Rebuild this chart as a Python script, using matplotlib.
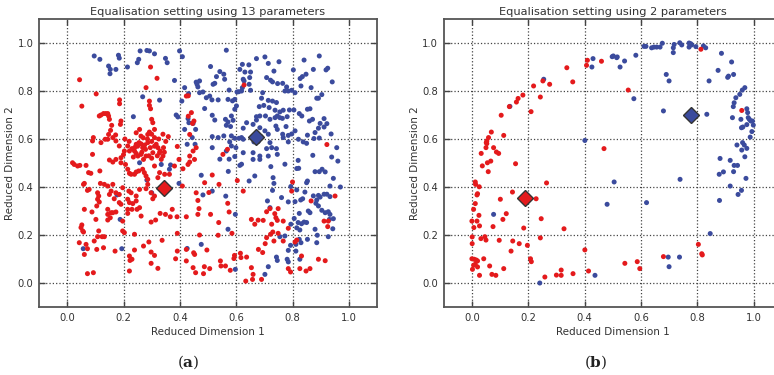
import matplotlib.pyplot as plt
import numpy as np

# ---- panel (a): 13 parameters ----
a_red = [
    # upper left
    (0.044, 0.847), (0.052, 0.737), (0.103, 0.788), (0.114, 0.696), (0.12, 0.70), (0.129, 0.706),
    (0.137, 0.706), (0.144, 0.706), (0.147, 0.696), (0.15, 0.682), (0.158, 0.657), (0.154, 0.636),
    (0.147, 0.619), (0.162, 0.606), (0.172, 0.617), (0.186, 0.763), (0.186, 0.747), (0.191, 0.675),
    (0.189, 0.661), (0.28, 0.814), (0.292, 0.758), (0.319, 0.853), (0.296, 0.90), (0.30, 0.682),
    (0.304, 0.668), (0.292, 0.74), (0.296, 0.726), (0.292, 0.629), (0.286, 0.619), (0.257, 0.64),
    (0.245, 0.626), (0.262, 0.612), (0.245, 0.578), (0.268, 0.564), (0.278, 0.557), (0.286, 0.585),
    (0.295, 0.564), (0.31, 0.606), (0.316, 0.578), (0.322, 0.564), (0.328, 0.543), (0.342, 0.564),
    (0.34, 0.529), (0.359, 0.61), (0.391, 0.569), (0.397, 0.515), (0.423, 0.779), (0.441, 0.71),
    (0.435, 0.619), (0.458, 0.564), (0.447, 0.55), (0.435, 0.529), (0.452, 0.515), (0.093, 0.606),
    (0.09, 0.592), (0.12, 0.585), (0.135, 0.599), (0.144, 0.599), (0.173, 0.592), (0.185, 0.571),
    (0.203, 0.55), (0.215, 0.571), (0.221, 0.55), (0.239, 0.55), (0.251, 0.529), (0.262, 0.536),
    (0.28, 0.529), (0.304, 0.543), (0.191, 0.522), (0.173, 0.515), (0.09, 0.536), (0.271, 0.515),
    (0.334, 0.515), (0.20, 0.535), (0.23, 0.56), (0.25, 0.57), (0.262, 0.58), (0.275, 0.575),
    (0.30, 0.59), (0.31, 0.57), (0.325, 0.60), (0.33, 0.55), (0.345, 0.545), (0.265, 0.545),
    (0.29, 0.53), (0.245, 0.54), (0.235, 0.525), (0.30, 0.52), (0.32, 0.53), (0.285, 0.60),
    (0.27, 0.605), (0.255, 0.585), (0.24, 0.565), (0.22, 0.59), (0.205, 0.60), (0.30, 0.62),
    (0.31, 0.64), (0.34, 0.62), (0.35, 0.59), (0.43, 0.78), (0.445, 0.665), (0.45, 0.675),
    (0.43, 0.695),
    # lower left
    (0.019, 0.501), (0.025, 0.494), (0.037, 0.4875), (0.045, 0.49), (0.067, 0.49), (0.076, 0.46),
    (0.084, 0.457), (0.116, 0.467), (0.15, 0.5125), (0.162, 0.504), (0.191, 0.501), (0.207, 0.494),
    (0.215, 0.474), (0.221, 0.457), (0.227, 0.453), (0.239, 0.453), (0.245, 0.4625), (0.254, 0.467),
    (0.268, 0.474), (0.274, 0.46), (0.28, 0.446), (0.286, 0.432), (0.31, 0.4875), (0.328, 0.46),
    (0.322, 0.439), (0.346, 0.453), (0.363, 0.453), (0.381, 0.4875), (0.411, 0.476), (0.429, 0.494),
    (0.435, 0.504), (0.061, 0.415), (0.058, 0.411), (0.118, 0.415), (0.132, 0.411), (0.144, 0.404),
    (0.162, 0.411), (0.156, 0.383), (0.15, 0.369), (0.173, 0.376), (0.185, 0.369), (0.197, 0.397),
    (0.219, 0.383), (0.227, 0.376), (0.245, 0.3625), (0.257, 0.39), (0.28, 0.393), (0.286, 0.411),
    (0.298, 0.376), (0.31, 0.3625), (0.304, 0.351), (0.167, 0.351), (0.215, 0.349), (0.221, 0.335),
    (0.233, 0.331), (0.245, 0.342), (0.185, 0.335), (0.191, 0.328), (0.215, 0.307), (0.23, 0.307),
    (0.248, 0.307), (0.257, 0.314), (0.108, 0.376), (0.112, 0.3625), (0.108, 0.349), (0.114, 0.3375),
    (0.105, 0.321), (0.072, 0.386), (0.078, 0.39), (0.144, 0.307), (0.156, 0.293), (0.162, 0.293),
    (0.173, 0.296), (0.144, 0.286), (0.153, 0.272), (0.144, 0.2625), (0.215, 0.29), (0.197, 0.258),
    (0.197, 0.217), (0.203, 0.21), (0.239, 0.203), (0.2625, 0.279), (0.298, 0.254), (0.314, 0.2625),
    (0.33, 0.29), (0.337, 0.178), (0.349, 0.286), (0.366, 0.276), (0.373, 0.307), (0.39, 0.276),
    (0.423, 0.276), (0.391, 0.207), (0.061, 0.307), (0.088, 0.296), (0.102, 0.265), (0.052, 0.242),
    (0.049, 0.231), (0.055, 0.217), (0.058, 0.2125), (0.112, 0.217), (0.108, 0.193), (0.124, 0.193),
    (0.132, 0.193), (0.096, 0.175), (0.067, 0.161), (0.043, 0.168), (0.072, 0.143), (0.061, 0.119),
    (0.105, 0.14), (0.129, 0.147), (0.17, 0.133), (0.221, 0.1125), (0.223, 0.094), (0.23, 0.099),
    (0.239, 0.1375), (0.271, 0.154), (0.29, 0.171), (0.298, 0.129), (0.31, 0.115), (0.298, 0.082),
    (0.322, 0.061), (0.221, 0.05), (0.072, 0.039), (0.093, 0.043), (0.409, 0.404), (0.458, 0.376),
    (0.464, 0.344), (0.468, 0.31), (0.464, 0.286), (0.47, 0.20), (0.423, 0.092), (0.447, 0.064),
    (0.456, 0.043), (0.449, 0.126), (0.4525, 0.119), (0.385, 0.101), (0.391, 0.133), (0.423, 0.14),
    # lower right
    (0.515, 0.45), (0.488, 0.418), (0.503, 0.377), (0.539, 0.411), (0.57, 0.332), (0.575, 0.296),
    (0.509, 0.286), (0.538, 0.252), (0.536, 0.199), (0.585, 0.207), (0.496, 0.1375), (0.544, 0.092),
    (0.546, 0.071), (0.562, 0.071), (0.579, 0.053), (0.487, 0.068), (0.484, 0.039), (0.506, 0.06),
    (0.594, 0.115), (0.592, 0.102), (0.615, 0.124), (0.617, 0.106), (0.637, 0.108), (0.654, 0.064),
    (0.66, 0.036), (0.658, 0.015), (0.69, 0.015), (0.634, 0.008), (0.679, 0.14), (0.694, 0.127),
    (0.654, 0.265), (0.666, 0.245), (0.678, 0.262), (0.696, 0.261), (0.708, 0.297), (0.72, 0.31),
    (0.749, 0.31), (0.737, 0.289), (0.741, 0.272), (0.746, 0.261), (0.767, 0.258), (0.726, 0.245),
    (0.73, 0.2125), (0.722, 0.203), (0.749, 0.207), (0.708, 0.189), (0.703, 0.164), (0.734, 0.175),
    (0.785, 0.228), (0.767, 0.175), (0.815, 0.179), (0.809, 0.171), (0.80, 0.421), (0.797, 0.383),
    (0.866, 0.342), (0.925, 0.235), (0.912, 0.258), (0.927, 0.258), (0.951, 0.3625), (0.625, 0.383),
    (0.604, 0.427), (0.832, 0.1125), (0.826, 0.06), (0.848, 0.05), (0.862, 0.06), (0.892, 0.099),
    (0.916, 0.093), (0.785, 0.06), (0.793, 0.046),
    # inside the blue cloud
    (0.628, 0.825), (0.569, 0.557), (0.553, 0.536), (0.922, 0.577),
]

a_blue = [
    # upper left
    (0.096, 0.946), (0.116, 0.932), (0.182, 0.949), (0.185, 0.937), (0.147, 0.904), (0.153, 0.89),
    (0.152, 0.872), (0.173, 0.89), (0.214, 0.90), (0.249, 0.918), (0.254, 0.932), (0.259, 0.967),
    (0.283, 0.969), (0.292, 0.967), (0.31, 0.955), (0.349, 0.936), (0.355, 0.918), (0.399, 0.967),
    (0.409, 0.943), (0.381, 0.844), (0.387, 0.70), (0.393, 0.692), (0.417, 0.814), (0.431, 0.789),
    (0.458, 0.837), (0.461, 0.828), (0.464, 0.817), (0.407, 0.758), (0.429, 0.685), (0.432, 0.668),
    (0.447, 0.665), (0.456, 0.64), (0.444, 0.606), (0.454, 0.578), (0.417, 0.64), (0.426, 0.578),
    (0.328, 0.762), (0.268, 0.776), (0.235, 0.693),
    # upper right
    (0.565, 0.97), (0.509, 0.902), (0.542, 0.881), (0.556, 0.87), (0.559, 0.849), (0.53, 0.86),
    (0.524, 0.832), (0.518, 0.828), (0.494, 0.772), (0.482, 0.796), (0.514, 0.763), (0.536, 0.763),
    (0.488, 0.727), (0.515, 0.699), (0.524, 0.679), (0.562, 0.682), (0.571, 0.671), (0.565, 0.657),
    (0.58, 0.652), (0.589, 0.678), (0.583, 0.696), (0.595, 0.724), (0.601, 0.738), (0.587, 0.759),
    (0.595, 0.765), (0.571, 0.765), (0.575, 0.804), (0.603, 0.796), (0.609, 0.797), (0.619, 0.80),
    (0.622, 0.814), (0.625, 0.849), (0.628, 0.842), (0.613, 0.89), (0.622, 0.911), (0.645, 0.909),
    (0.631, 0.879), (0.651, 0.879), (0.648, 0.856), (0.646, 0.828), (0.651, 0.803), (0.672, 0.935),
    (0.702, 0.942), (0.714, 0.915), (0.734, 0.883), (0.752, 0.922), (0.708, 0.856), (0.722, 0.845),
    (0.729, 0.838), (0.747, 0.831), (0.765, 0.832), (0.779, 0.817), (0.773, 0.80), (0.785, 0.80),
    (0.797, 0.803), (0.809, 0.793), (0.803, 0.888), (0.841, 0.929), (0.848, 0.87), (0.874, 0.89),
    (0.895, 0.946), (0.919, 0.888), (0.925, 0.895), (0.941, 0.838), (0.827, 0.852), (0.835, 0.86),
    (0.83, 0.821), (0.866, 0.814), (0.886, 0.77), (0.892, 0.77), (0.904, 0.785), (0.912, 0.685),
    (0.922, 0.664), (0.912, 0.65), (0.892, 0.645), (0.898, 0.665), (0.862, 0.726), (0.853, 0.724),
    (0.871, 0.682), (0.86, 0.675), (0.824, 0.706), (0.833, 0.696), (0.805, 0.721), (0.789, 0.721),
    (0.767, 0.72), (0.755, 0.713), (0.738, 0.72), (0.743, 0.752), (0.729, 0.758), (0.714, 0.761),
    (0.69, 0.77), (0.694, 0.793), (0.682, 0.735), (0.698, 0.74), (0.717, 0.731), (0.684, 0.696),
    (0.672, 0.693), (0.704, 0.696), (0.72, 0.682), (0.738, 0.689), (0.746, 0.696), (0.755, 0.689),
    (0.764, 0.686), (0.781, 0.693), (0.741, 0.654), (0.746, 0.64), (0.765, 0.62), (0.767, 0.606),
    (0.785, 0.615), (0.797, 0.621), (0.809, 0.634), (0.777, 0.652), (0.625, 0.645), (0.637, 0.668),
    (0.66, 0.661), (0.672, 0.679), (0.684, 0.647), (0.702, 0.634), (0.714, 0.62), (0.688, 0.61),
    (0.666, 0.613), (0.619, 0.606), (0.61, 0.603), (0.595, 0.603), (0.625, 0.599), (0.663, 0.588),
    (0.678, 0.589), (0.72, 0.585), (0.726, 0.564), (0.743, 0.56), (0.708, 0.56), (0.66, 0.543),
    (0.684, 0.529), (0.714, 0.529), (0.746, 0.536), (0.785, 0.588), (0.821, 0.599), (0.838, 0.588),
    (0.85, 0.582), (0.853, 0.616), (0.88, 0.627), (0.876, 0.602), (0.895, 0.604), (0.937, 0.621),
    (0.957, 0.564), (0.939, 0.525), (0.872, 0.532), (0.625, 0.543), (0.599, 0.564), (0.583, 0.571),
    (0.577, 0.588), (0.583, 0.613), (0.556, 0.613), (0.536, 0.606), (0.515, 0.61), (0.515, 0.564),
    (0.542, 0.516), (0.575, 0.516), (0.595, 0.527), (0.565, 0.55), (0.47, 0.793), (0.47, 0.842),
    (0.506, 0.779),
    # lower right
    (0.613, 0.49), (0.619, 0.495), (0.66, 0.515), (0.684, 0.515), (0.723, 0.485), (0.773, 0.495),
    (0.82, 0.511), (0.815, 0.477), (0.822, 0.478), (0.88, 0.464), (0.895, 0.464), (0.905, 0.474),
    (0.916, 0.463), (0.945, 0.436), (0.961, 0.508), (0.731, 0.439), (0.734, 0.415), (0.666, 0.446),
    (0.646, 0.425), (0.572, 0.465), (0.476, 0.449), (0.515, 0.383), (0.482, 0.367), (0.563, 0.362),
    (0.597, 0.286), (0.571, 0.224), (0.476, 0.161), (0.597, 0.057), (0.702, 0.036), (0.743, 0.108),
    (0.746, 0.094), (0.714, 0.068), (0.781, 0.099), (0.785, 0.088), (0.711, 0.342), (0.72, 0.314),
    (0.729, 0.386), (0.761, 0.356), (0.785, 0.338), (0.809, 0.339), (0.829, 0.346), (0.836, 0.351),
    (0.844, 0.379), (0.85, 0.418), (0.853, 0.425), (0.794, 0.402), (0.815, 0.388), (0.874, 0.363),
    (0.892, 0.365), (0.898, 0.358), (0.912, 0.37), (0.922, 0.37), (0.933, 0.36), (0.886, 0.346),
    (0.883, 0.332), (0.892, 0.321), (0.904, 0.303), (0.916, 0.293), (0.927, 0.297), (0.933, 0.286),
    (0.945, 0.268), (0.931, 0.265), (0.856, 0.30), (0.862, 0.293), (0.824, 0.29), (0.806, 0.269),
    (0.82, 0.252), (0.832, 0.247), (0.841, 0.254), (0.85, 0.252), (0.794, 0.245), (0.815, 0.23),
    (0.826, 0.221), (0.824, 0.182), (0.88, 0.224), (0.888, 0.199), (0.927, 0.193), (0.943, 0.226),
    (0.853, 0.182), (0.83, 0.168), (0.812, 0.161), (0.812, 0.133), (0.785, 0.136), (0.793, 0.157),
    (0.773, 0.196), (0.755, 0.193), (0.826, 0.099), (0.886, 0.168), (0.97, 0.40), (0.933, 0.404),
    # lower left
    (0.257, 0.501), (0.334, 0.494), (0.367, 0.492), (0.363, 0.474), (0.283, 0.429), (0.30, 0.376),
    (0.397, 0.415), (0.177, 0.367), (0.188, 0.265), (0.057, 0.143), (0.194, 0.143), (0.426, 0.144),
]

a_red_centre = (0.344, 0.396)
a_blue_centre = (0.669, 0.607)

# ---- panel (b): 2 parameters ----
b_red = [
    (0.219, 0.821), (0.337, 0.897), (0.358, 0.838), (0.276, 0.828), (0.252, 0.842), (0.243, 0.775),
    (0.21, 0.714), (0.181, 0.783), (0.164, 0.769), (0.158, 0.754), (0.133, 0.735), (0.104, 0.699),
    (0.113, 0.615), (0.069, 0.629), (0.059, 0.606), (0.053, 0.592), (0.051, 0.585), (0.053, 0.581),
    (0.05, 0.564), (0.077, 0.564), (0.087, 0.546), (0.095, 0.54), (0.033, 0.54), (0.067, 0.508),
    (0.055, 0.501), (0.037, 0.488), (0.058, 0.464), (0.155, 0.497), (0.012, 0.421), (0.013, 0.411),
    (0.026, 0.401), (0.02, 0.372), (0.018, 0.367), (0.012, 0.331), (0.006, 0.307), (0.025, 0.282),
    (0.0, 0.258), (0.018, 0.258), (0.007, 0.231), (0.027, 0.238), (0.001, 0.192), (0.001, 0.164),
    (0.032, 0.185), (0.046, 0.193), (0.05, 0.179), (0.0, 0.101), (0.008, 0.099), (0.015, 0.096),
    (0.02, 0.092), (0.006, 0.074), (0.002, 0.057), (0.012, 0.078), (0.02, 0.067), (0.027, 0.032),
    (0.042, 0.101), (0.063, 0.071), (0.071, 0.036), (0.085, 0.032), (0.113, 0.06), (0.075, 0.235),
    (0.101, 0.349), (0.11, 0.265), (0.122, 0.289), (0.097, 0.178), (0.145, 0.175), (0.168, 0.164),
    (0.139, 0.133), (0.144, 0.379), (0.184, 0.229), (0.197, 0.157), (0.208, 0.101), (0.211, 0.089),
    (0.228, 0.351), (0.246, 0.268), (0.243, 0.188), (0.265, 0.417), (0.327, 0.226), (0.259, 0.025),
    (0.30, 0.033), (0.317, 0.032), (0.317, 0.054), (0.359, 0.039), (0.401, 0.138), (0.414, 0.05),
    (0.407, 0.907), (0.41, 0.928), (0.46, 0.924), (0.555, 0.804), (0.469, 0.56), (0.543, 0.082),
    (0.587, 0.089), (0.596, 0.06), (0.68, 0.11), (0.804, 0.161), (0.818, 0.117), (0.816, 0.122),
    (0.813, 0.974), (0.958, 0.719),
]

b_blue = [
    (0.255, 0.849), (0.135, 0.736), (0.426, 0.90), (0.43, 0.935), (0.498, 0.943), (0.502, 0.946),
    (0.514, 0.939), (0.516, 0.942), (0.526, 0.90), (0.542, 0.925), (0.582, 0.949), (0.611, 0.986),
    (0.618, 0.986), (0.638, 0.98), (0.646, 0.983), (0.656, 0.983), (0.668, 0.983), (0.676, 0.999),
    (0.715, 0.98), (0.715, 0.96), (0.718, 0.994), (0.738, 1.001), (0.745, 0.992), (0.771, 1.0),
    (0.777, 0.997), (0.78, 0.992), (0.771, 0.983), (0.795, 0.985), (0.822, 0.988), (0.83, 0.98),
    (0.69, 0.869), (0.70, 0.842), (0.68, 0.717), (0.575, 0.768), (0.842, 0.842), (0.834, 0.703),
    (0.886, 0.957), (0.922, 0.921), (0.874, 0.886), (0.908, 0.857), (0.911, 0.862), (0.929, 0.869),
    (0.937, 0.772), (0.931, 0.751), (0.928, 0.735), (0.951, 0.786), (0.96, 0.804), (0.969, 0.814),
    (0.925, 0.689), (0.955, 0.682), (0.957, 0.647), (0.962, 0.65), (0.976, 0.726), (0.979, 0.71),
    (0.981, 0.689), (0.976, 0.66), (0.985, 0.682), (0.99, 0.675), (0.996, 0.675), (0.999, 0.658),
    (0.994, 0.631), (0.988, 0.608), (0.941, 0.575), (0.961, 0.585), (0.967, 0.575), (0.958, 0.554),
    (0.976, 0.561), (0.969, 0.526), (0.881, 0.519), (0.917, 0.511), (0.931, 0.49), (0.943, 0.49),
    (0.929, 0.464), (0.893, 0.463), (0.878, 0.453), (0.973, 0.436), (0.917, 0.404), (0.957, 0.386),
    (0.945, 0.369), (0.879, 0.344), (0.846, 0.206), (0.739, 0.432), (0.505, 0.421), (0.48, 0.328),
    (0.62, 0.335), (0.401, 0.594), (0.077, 0.286), (0.241, 0.0), (0.437, 0.032), (0.697, 0.108),
    (0.70, 0.068), (0.737, 0.108),
]

b_red_centre = (0.19, 0.353)
b_blue_centre = (0.778, 0.701)

titles = ['Equalisation setting using 13 parameters', 'Equalisation setting using 2 parameters']
panel_labels = [r'$(\mathbf{a})$', r'$(\mathbf{b})$']
ticks = [0.0, 0.2, 0.4, 0.6, 0.8, 1.0]

RED = '#e41a1c'
BLUE = '#3b4b9d'
TXT = '#333333'

plt.rcParams['mathtext.fontset'] = 'dejavuserif'

fig = plt.figure(figsize=(7.74, 3.75), dpi=100)
ax_a = fig.add_axes([0.0504, 0.1813, 0.4367, 0.768])
ax_b = fig.add_axes([0.5733, 0.1813, 0.4367, 0.768])

panels = [
    (ax_a, a_red, a_blue, a_red_centre, a_blue_centre),
    (ax_b, b_red, b_blue, b_red_centre, b_blue_centre),
]

for i, (ax, red, blue, rc, bc) in enumerate(panels):
    red = np.array(red)
    blue = np.array(blue)
    ax.scatter(blue[:, 0], blue[:, 1], s=13, c=BLUE, edgecolors='none', zorder=3)
    ax.scatter(red[:, 0], red[:, 1], s=13, c=RED, edgecolors='none', zorder=3)
    ax.plot(rc[0], rc[1], 'D', ms=8.6, mfc=RED, mec='#333333', mew=1.0, zorder=4)
    ax.plot(bc[0], bc[1], 'D', ms=8.6, mfc=BLUE, mec='#333333', mew=1.0, zorder=4)

    ax.set_xlim(-0.1, 1.1)
    ax.set_ylim(-0.1, 1.1)
    ax.set_xticks(ticks)
    ax.set_yticks(ticks)
    ax.grid(True, linestyle=':', color='#444444', linewidth=0.9)
    ax.set_axisbelow(True)
    ax.tick_params(direction='in', top=True, right=True, length=4, width=1,
                   color='#444444', labelsize=7.2, labelcolor=TXT, pad=4)
    for sp in ax.spines.values():
        sp.set_color('#555555')
        sp.set_linewidth(1.3)
    ax.set_title(titles[i], fontsize=8.2, color=TXT, pad=3)
    ax.set_xlabel('Reduced Dimension 1', fontsize=7.5, color=TXT, labelpad=3)
    ax.set_ylabel('Reduced Dimension 2', fontsize=7.5, color=TXT, labelpad=2)

fig.text(0.243, 0.035, panel_labels[0], fontsize=11, ha='center', va='center', color='#222222')
fig.text(0.770, 0.035, panel_labels[1], fontsize=11, ha='center', va='center', color='#222222')

fig.savefig('out.png', dpi=100)
